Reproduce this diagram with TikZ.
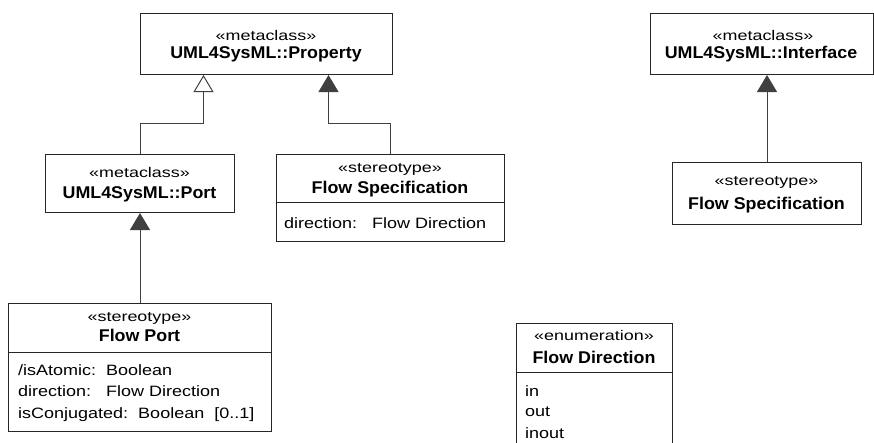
\documentclass[tikz,border=0pt]{standalone}
\usepackage{fontspec}
\setmainfont{Liberation Sans}
\newfontfamily\stfont[FakeStretch=1.28]{Liberation Sans}
\newfontfamily\atfont[FakeStretch=1.2]{Liberation Sans}
\newfontfamily\nmfont[FakeStretch=1.05]{Liberation Sans}
\usetikzlibrary{arrows.meta,calc}
\tikzset{
  box/.style={draw=black!85, line width=1pt, fill=none, inner sep=0pt, anchor=north west},
  st/.style={anchor=base, inner sep=0pt, font=\stfont\fontsize{14}{16}\selectfont},
  nm/.style={anchor=base, inner sep=0pt, font=\nmfont\bfseries\fontsize{17}{19}\selectfont},
  attr/.style={anchor=base west, inner sep=0pt, font=\atfont\fontsize{15}{17}\selectfont},
  conn/.style={draw=black!75, line width=1pt},
  gen/.style={conn, -{Triangle[open,length=17pt,width=20pt,fill=white]}},
  ext/.style={conn, -{Triangle[length=17pt,width=20pt]}},
  divider/.style={draw=black!85, line width=1pt}
}
\begin{document}
\begin{tikzpicture}[x=1pt,y=-1pt]
\clip (0,0) rectangle (874,442);
\fill[white] (0,0) rectangle (874,442);

% Property
\node[box, minimum width=252, minimum height=61] (prop) at (140,13) {};
\node[st] (propst) at (266,40) {«metaclass»};
\node[nm] (propnm) at (266,58.5) {UML4SysML::Property};

% Interface
\node[box, minimum width=223, minimum height=61] (iface) at (650,13) {};
\node[st] (ifacest) at (763,40) {«metaclass»};
\node[nm] (ifacenm) at (761,58.5) {UML4SysML::Interface};

% Port
\node[box, minimum width=189, minimum height=58] (port) at (45,154) {};
\node[st] (portst) at (139.5,177) {«metaclass»};
\node[nm] (portnm) at (139.5,198.5) {UML4SysML::Port};

% Flow Specification (left)
\node[box, minimum width=228, minimum height=87] (fs) at (276,154) {};
\draw[divider] (fs.west |- 0,202) -- (fs.east |- 0,202);
\node[st] (fsst) at (390,172) {«stereotype»};
\node[nm] (fsnm) at (390,193.5) {Flow Specification};
\node[attr] (fsat) at (284,228) {direction:\ \ \ Flow Direction};

% Flow Specification (right)
\node[box, minimum width=189, minimum height=62] (fs2) at (672,162) {};
\node[st] (fs2st) at (766.5,185) {«stereotype»};
\node[nm] (fs2nm) at (766.5,209) {Flow Specification};

% Flow Port
\node[box, minimum width=263, minimum height=128] (fp) at (8,303) {};
\draw[divider] (fp.west |- 0,352.7) -- (fp.east |- 0,352.7);
\node[st] (fpst) at (139.5,321.5) {«stereotype»};
\node[nm] (fpnm) at (139.5,341.5) {Flow Port};
\node[attr] (fpa1) at (18,375) {/isAtomic:\ \ Boolean};
\node[attr] (fpa2) at (18,396.5) {direction:\ \ \ Flow Direction};
\node[attr] (fpa3) at (18,418) {isConjugated:\ \ Boolean\ \ [0..1]};

% Enumeration
\node[box, minimum width=156, minimum height=140] (en) at (516,323) {};
\draw[divider] (en.west |- 0,372) -- (en.east |- 0,372);
\node[st] (enst) at (594,340) {«enumeration»};
\node[nm] (ennm) at (594,363) {Flow Direction};
\node[attr] (en1) at (525,396) {in};
\node[attr] (en2) at (525,416.5) {out};
\node[attr] (en3) at (525,438) {inout};

% Connectors
\draw[gen] (port.north) -- ++(0,-31) -| ($(prop.south)+(-63,0)$);
\draw[ext] (fs.north) -- ++(0,-31) -| ($(prop.south)+(62,0)$);
\draw[ext] (fp.north) -- (port.south);
\draw[ext] (fs2.north) -- (fs2.north |- iface.south);
\end{tikzpicture}
\end{document}
